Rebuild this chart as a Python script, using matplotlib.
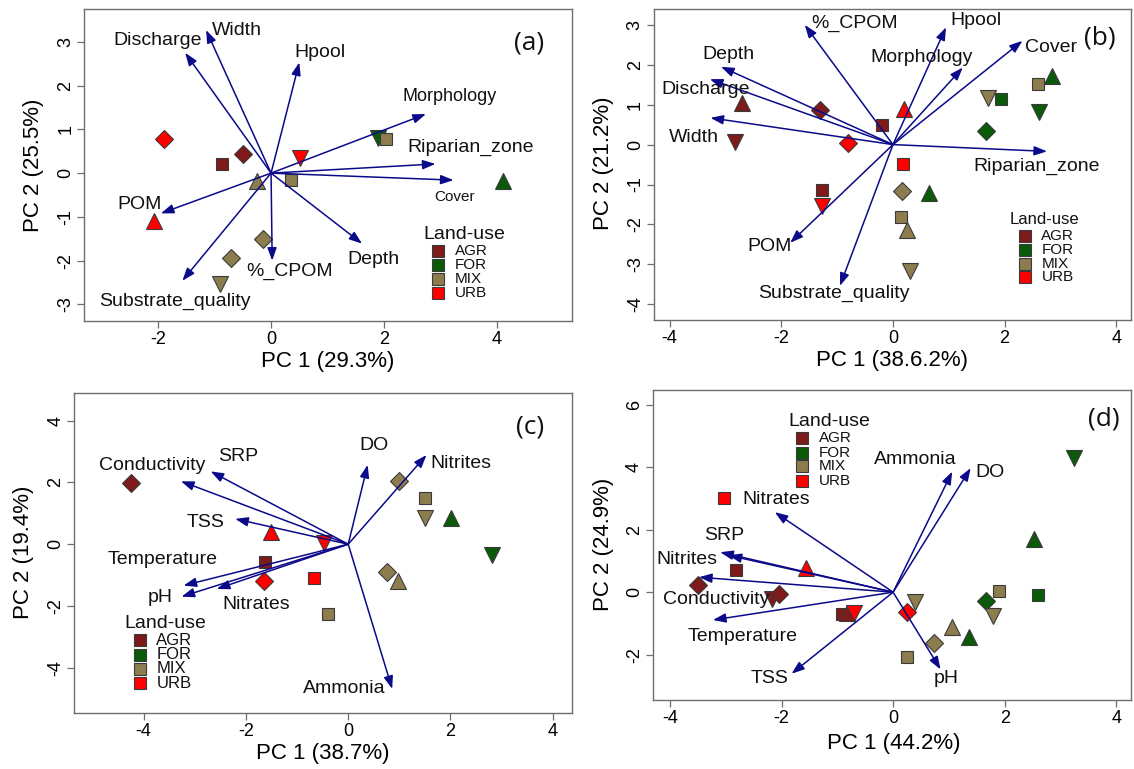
import matplotlib
matplotlib.use('Agg')
import matplotlib.pyplot as plt

plt.rcParams['font.family'] = ['Liberation Sans', 'DejaVu Sans']
plt.rcParams['axes.unicode_minus'] = False

LANDUSE = ['AGR', 'FOR', 'MIX', 'URB']
COLORS = {'AGR': '#7E1A1A', 'FOR': '#0A5A0A', 'MIX': '#8C7C4E', 'URB': '#FF0000'}
MARKERS = {'sq': 's', 'di': 'D', 'tu': '^', 'td': 'v'}
MSIZE = {'sq': 8, 'di': 8.8, 'tu': 12, 'td': 12}
ARROW = '#0A0A8A'

# ---------------- Panel (a) ----------------
a_pc1 = [-1.89, -0.50, -0.86, -0.24, 0.36, 0.51, 1.89, 2.03, 4.10, -2.07, -0.15, -0.70, -0.90]
a_pc2 = [0.77, 0.43, 0.20, -0.18, -0.16, 0.34, 0.81, 0.79, -0.18, -1.10, -1.51, -1.93, -2.54]
a_lu = ['URB', 'AGR', 'AGR', 'MIX', 'MIX', 'URB', 'FOR', 'MIX', 'FOR', 'URB', 'MIX', 'MIX', 'MIX']
a_shape = ['di', 'di', 'sq', 'tu', 'sq', 'td', 'td', 'sq', 'tu', 'tu', 'di', 'di', 'td']
a_vars = ['Width', 'Discharge', 'Hpool', 'Morphology', 'Riparian_zone', 'Cover', 'Depth',
          '%_CPOM', 'Substrate_quality', 'POM']
a_load1 = [-1.15, -1.52, 0.50, 2.74, 2.91, 3.23, 1.61, 0.02, -1.57, -1.95]
a_load2 = [3.27, 2.75, 2.53, 1.35, 0.21, -0.16, -1.61, -2.00, -2.46, -0.92]
a_xlabel = 'PC 1 (29.3%)'
a_ylabel = 'PC 2 (25.5%)'
a_xticks = [-2, 0, 2, 4]
a_yticks = [-3, -2, -1, 0, 1, 2, 3]

# ---------------- Panel (b) ----------------
b_pc1 = [-2.71, -2.83, -1.31, -0.20, 0.19, -0.80, 0.18, -1.27, -1.27, 0.16, 0.65, 0.14, 0.26,
         0.31, 1.70, 1.94, 1.67, 2.60, 2.85, 2.61]
b_pc2 = [1.05, 0.07, 0.86, 0.48, 0.89, 0.04, -0.48, -1.15, -1.53, -1.17, -1.22, -1.82, -2.15,
         -3.16, 1.17, 1.13, 0.34, 1.52, 1.73, 0.82]
b_lu = ['AGR', 'AGR', 'AGR', 'AGR', 'URB', 'URB', 'URB', 'AGR', 'URB', 'MIX', 'FOR', 'MIX', 'MIX',
        'MIX', 'MIX', 'FOR', 'FOR', 'MIX', 'FOR', 'FOR']
b_shape = ['tu', 'td', 'di', 'sq', 'tu', 'di', 'sq', 'sq', 'td', 'di', 'tu', 'sq', 'tu',
           'td', 'td', 'sq', 'di', 'sq', 'tu', 'td']
b_vars = ['%_CPOM', 'Hpool', 'Cover', 'Morphology', 'Depth', 'Discharge', 'Width',
          'Riparian_zone', 'POM', 'Substrate_quality']
b_load1 = [-1.58, 0.95, 2.32, 1.25, -3.08, -3.28, -3.27, 2.76, -1.84, -0.95]
b_load2 = [3.00, 2.94, 2.60, 1.93, 1.95, 1.64, 0.67, -0.17, -2.46, -3.54]
b_xlabel = 'PC 1 (38.6.2%)'
b_ylabel = 'PC 2 (21.2%)'
b_xticks = [-4, -2, 0, 2, 4]
b_yticks = [-4, -3, -2, -1, 0, 1, 2, 3]

# ---------------- Panel (c) ----------------
c_pc1 = [-4.24, -1.51, -0.48, -1.63, -1.65, -0.67, -0.39, 1.00, 1.50, 1.50, 2.01, 2.81, 0.76, 0.97]
c_pc2 = [1.99, 0.41, 0.03, -0.58, -1.20, -1.09, -2.26, 2.04, 1.50, 0.84, 0.84, -0.35, -0.91, -1.18]
c_lu = ['AGR', 'URB', 'URB', 'AGR', 'URB', 'URB', 'MIX', 'MIX', 'MIX', 'MIX', 'FOR', 'FOR', 'MIX', 'MIX']
c_shape = ['di', 'tu', 'td', 'sq', 'di', 'sq', 'sq', 'di', 'sq', 'td', 'tu', 'td', 'di', 'tu']
c_vars = ['DO', 'Nitrites', 'SRP', 'Conductivity', 'TSS', 'Temperature', 'pH', 'Nitrates', 'Ammonia']
c_load1 = [0.38, 1.53, -2.69, -3.27, -2.21, -3.22, -3.26, -2.57, 0.86]
c_load2 = [2.57, 2.89, 2.36, 2.04, 0.82, -1.34, -1.70, -1.45, -4.69]
c_xlabel = 'PC 1 (38.7%)'
c_ylabel = 'PC 2 (19.4%)'
c_xticks = [-4, -2, 0, 2, 4]
c_yticks = [-4, -2, 0, 2, 4]

# ---------------- Panel (d) ----------------
d_pc1 = [-3.04, -2.82, -1.57, -3.50, -2.17, -2.04, -0.91, -0.83, -0.70, 0.24, 0.39, 0.24, 0.74,
         1.06, 1.36, 1.66, 1.79, 1.89, 2.59, 2.53, 3.24]
d_pc2 = [3.02, 0.71, 0.78, 0.23, -0.21, -0.07, -0.71, -0.67, -0.67, -0.64, -0.32, -2.06, -1.63,
         -1.12, -1.44, -0.29, -0.75, 0.05, -0.09, 1.71, 4.30]
d_lu = ['URB', 'AGR', 'URB', 'AGR', 'AGR', 'AGR', 'AGR', 'AGR', 'URB', 'URB', 'MIX', 'MIX', 'MIX',
        'MIX', 'FOR', 'FOR', 'MIX', 'MIX', 'FOR', 'FOR', 'FOR']
d_shape = ['sq', 'sq', 'tu', 'di', 'td', 'di', 'sq', 'tu', 'td', 'di', 'td', 'sq', 'di',
           'tu', 'tu', 'di', 'td', 'sq', 'sq', 'tu', 'td']
d_vars = ['Ammonia', 'DO', 'Nitrates', 'SRP', 'Nitrites', 'Conductivity', 'Temperature', 'TSS', 'pH']
d_load1 = [1.06, 1.39, -2.12, -3.10, -2.95, -3.48, -3.23, -1.82, 0.85]
d_load2 = [3.86, 3.97, 2.56, 1.28, 1.18, 0.48, -0.89, -2.61, -2.47]
d_xlabel = 'PC 1 (44.2%)'
d_ylabel = 'PC 2 (24.9%)'
d_xticks = [-4, -2, 0, 2, 4]
d_yticks = [-2, 0, 2, 4, 6]

# ---------------- Layout (positions only) ----------------
W, H = 1134, 769
layout = {
    'a': dict(box=(84, 9, 571.7, 321.5), xlim=(-3.31, 5.32), ylim=(-3.39, 3.75),
              xl=(328, 362), yl=(34, 165), tag=(4.56, 2.98),
              labels={'Width': (-0.61, 3.27, 14), 'Discharge': (-2.0, 3.04, 14), 'Hpool': (0.86, 2.76, 14),
                      'Morphology': (3.16, 1.76, 13), 'Riparian_zone': (3.53, 0.59, 14),
                      'Cover': (3.24, -0.54, 11), 'Depth': (1.82, -1.97, 14), '%_CPOM': (0.32, -2.25, 14),
                      'Substrate_quality': (-1.71, -2.92, 14), 'POM': (-2.32, -0.71, 14)},
              leg=dict(title=(3.42, -1.40, 14), sqx=2.96, txtx=3.25, ys=[-1.77, -2.10, -2.41, -2.73], fs=11)),
    'b': dict(box=(653.5, 9.3, 1131.3, 319.8), xlim=(-4.29, 4.27), ylim=(-4.39, 3.39),
              xl=(892, 360), yl=(604, 163), tag=(3.71, 2.67),
              labels={'%_CPOM': (-0.69, 3.04, 14), 'Hpool': (1.49, 3.11, 14), 'Cover': (2.84, 2.44, 14),
                      'Morphology': (0.51, 2.19, 14), 'Depth': (-2.94, 2.25, 14), 'Discharge': (-3.36, 1.38, 14),
                      'Width': (-3.56, 0.19, 14), 'Riparian_zone': (2.58, -0.54, 14), 'POM': (-2.21, -2.55, 14),
                      'Substrate_quality': (-1.06, -3.72, 14)},
              leg=dict(title=(2.71, -1.88, 12), sqx=2.37, txtx=2.66, ys=[-2.30, -2.64, -2.99, -3.33], fs=11)),
    'c': dict(box=(74.1, 393.3, 571.7, 713.3), xlim=(-5.36, 4.37), ylim=(-5.48, 4.89),
              xl=(323, 754), yl=(24, 552), tag=(3.55, 3.81),
              labels={'DO': (0.51, 3.20, 14), 'Nitrites': (2.20, 2.63, 14), 'SRP': (-2.16, 2.84, 14),
                      'Conductivity': (-3.84, 2.55, 14), 'TSS': (-2.79, 0.71, 14), 'Temperature': (-3.63, -0.50, 14),
                      'pH': (-3.67, -1.72, 14), 'Nitrates': (-1.79, -1.97, 14), 'Ammonia': (-0.08, -4.67, 14)},
              leg=dict(title=(-3.58, -2.56, 14), sqx=-4.08, txtx=-3.75, ys=[-3.12, -3.59, -4.04, -4.50], fs=12)),
    'd': dict(box=(652.7, 390, 1131.3, 700), xlim=(-4.31, 4.27), ylim=(-3.45, 6.47),
              xl=(894, 743), yl=(603, 544), tag=(3.78, 5.55),
              labels={'Ammonia': (0.40, 4.23, 14), 'DO': (1.74, 3.84, 14), 'Nitrates': (-2.09, 2.95, 14),
                      'SRP': (-3.03, 1.83, 14), 'Nitrites': (-3.70, 1.03, 14), 'Conductivity': (-3.18, -0.23, 14),
                      'Temperature': (-2.69, -1.41, 14), 'TSS': (-2.22, -2.75, 14), 'pH': (0.95, -2.77, 14)},
              leg=dict(title=(-1.15, 5.47, 14), sqx=-1.63, txtx=-1.33, ys=[4.93, 4.46, 4.03, 3.57], fs=11)),
}

panels = {
    'a': (a_pc1, a_pc2, a_lu, a_shape, a_vars, a_load1, a_load2, a_xlabel, a_ylabel, a_xticks, a_yticks),
    'b': (b_pc1, b_pc2, b_lu, b_shape, b_vars, b_load1, b_load2, b_xlabel, b_ylabel, b_xticks, b_yticks),
    'c': (c_pc1, c_pc2, c_lu, c_shape, c_vars, c_load1, c_load2, c_xlabel, c_ylabel, c_xticks, c_yticks),
    'd': (d_pc1, d_pc2, d_lu, d_shape, d_vars, d_load1, d_load2, d_xlabel, d_ylabel, d_xticks, d_yticks),
}

fig = plt.figure(figsize=(W / 100, H / 100), dpi=100)
SPINE = '#6E6E6E'

for key, (pc1, pc2, lu, shp, vars_, l1, l2, xlab, ylab, xt, yt) in panels.items():
    L = layout[key]
    x0, y0, x1, y1 = L['box']
    ax = fig.add_axes([x0 / W, 1 - y1 / H, (x1 - x0) / W, (y1 - y0) / H])
    ax.set_xlim(*L['xlim'])
    ax.set_ylim(*L['ylim'])
    ax.set_xticks(xt)
    ax.set_yticks(yt)
    ax.tick_params(axis='both', direction='out', length=5, width=0.9, color=SPINE,
                   labelsize=13, pad=2)
    ax.tick_params(axis='y', labelrotation=90)
    for lab in ax.get_yticklabels():
        lab.set_va('center')
    for s in ax.spines.values():
        s.set_color(SPINE)
        s.set_linewidth(1.0)

    # points
    for x, y, g, s in zip(pc1, pc2, lu, shp):
        ax.plot(x, y, linestyle='none', marker=MARKERS[s], markersize=MSIZE[s],
                markerfacecolor=COLORS[g], markeredgecolor='#3A3A3A', markeredgewidth=0.8, zorder=3)

    # loading arrows
    for v, x, y in zip(vars_, l1, l2):
        ax.annotate('', xy=(x, y), xytext=(0, 0),
                    arrowprops=dict(arrowstyle='-|>,head_length=0.55,head_width=0.2',
                                    color=ARROW, lw=1.1, shrinkA=0, shrinkB=0,
                                    mutation_scale=14), zorder=4)
        tx, ty, fs = L['labels'][v]
        ax.text(tx, ty, v, fontsize=fs, ha='center', va='center', color='#111111', zorder=5)

    # panel tag
    ax.text(L['tag'][0], L['tag'][1], '(' + key + ')', fontsize=19, ha='center', va='center',
            family=['Open Sans', 'DejaVu Sans'], color='#111111')

    # legend
    lg = L['leg']
    tx, ty, tfs = lg['title']
    ax.text(tx, ty, 'Land-use', fontsize=tfs, ha='center', va='center', color='#111111')
    for g, yy in zip(LANDUSE, lg['ys']):
        ax.plot(lg['sqx'], yy, linestyle='none', marker='s', markersize=8.5,
                markerfacecolor=COLORS[g], markeredgecolor='#3A3A3A', markeredgewidth=0.8)
        ax.text(lg['txtx'], yy, g, fontsize=lg['fs'], ha='left', va='center', color='#111111')

    fig.text(L['xl'][0] / W, 1 - L['xl'][1] / H, xlab, fontsize=16, ha='center', va='center')
    fig.text(L['yl'][0] / W, 1 - L['yl'][1] / H, ylab, fontsize=16, ha='center', va='center',
             rotation=90)

fig.savefig('out.png', dpi=100, facecolor='white')
